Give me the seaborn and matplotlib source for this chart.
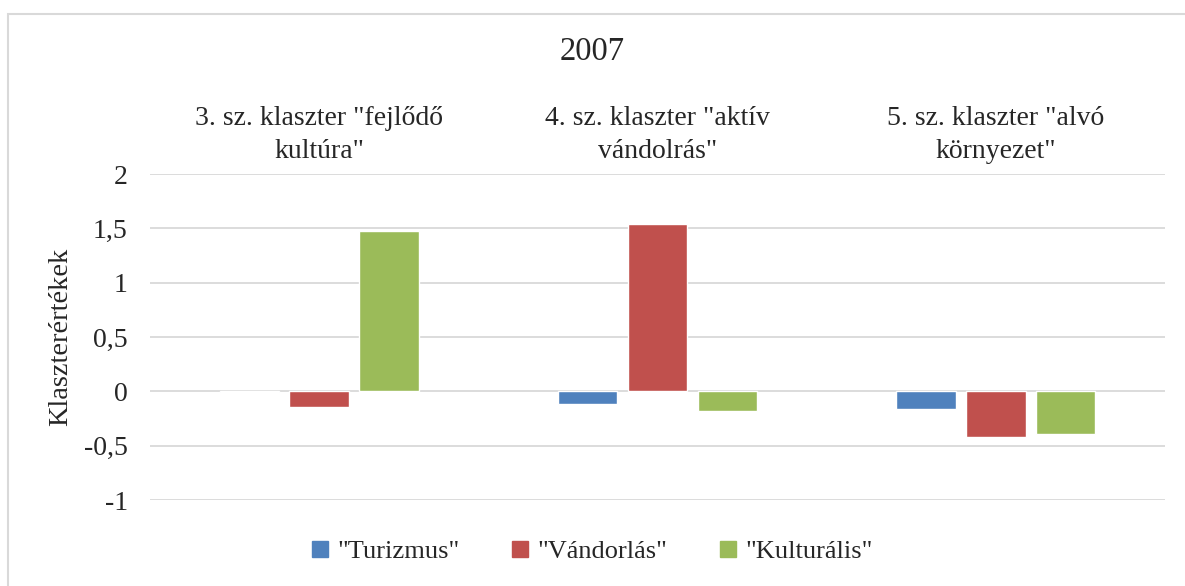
import pandas as pd
import matplotlib.pyplot as plt
import seaborn as sns
from matplotlib.ticker import FuncFormatter

# cluster categories and series values
clusters = ['3. sz. klaszter "fejlődő\nkultúra"',
            '4. sz. klaszter "aktív\nvándolrás"',
            '5. sz. klaszter "alvó\nkörnyezet"']
series = ['"Turizmus"', '"Vándorlás"', '"Kulturális"']
turizmus = [-0.01, -0.12, -0.16]
vandorlas = [-0.14, 1.54, -0.42]
kulturalis = [1.48, -0.18, -0.39]
colors = ['#4F81BD', '#C0504D', '#9BBB59']

rows = []
for name, vals in zip(series, [turizmus, vandorlas, kulturalis]):
    for c, v in zip(clusters, vals):
        rows.append({'klaszter': c, 'sorozat': name, 'ertek': v})
df = pd.DataFrame(rows)

sns.set_style('white')
plt.rcParams['font.family'] = ['Liberation Serif', 'DejaVu Serif']

fig = plt.figure(figsize=(11.85, 5.86), dpi=100)
ax = fig.add_axes([150 / 1185, 1 - 500 / 586, 1015 / 1185, 326 / 586])

sns.barplot(data=df, x='klaszter', y='ertek', hue='sorozat',
            palette=colors, width=0.62, gap=0.15, ax=ax,
            order=clusters, hue_order=series, saturation=1)

ax.set_ylim(-1, 2)
ax.set_yticks([-1, -0.5, 0, 0.5, 1, 1.5, 2])
ax.yaxis.set_major_formatter(FuncFormatter(lambda v, p: f'{v:g}'.replace('.', ',')))
ax.grid(axis='y', color='#d9d9d9', lw=1.3)
ax.set_axisbelow(True)
for s in ax.spines.values():
    s.set_visible(False)

ax.xaxis.tick_top()
ax.tick_params(axis='x', length=0, pad=7, labelsize=20)
ax.tick_params(axis='y', length=0, pad=16, labelsize=20)
for t in ax.get_xticklabels():
    t.set_linespacing(1.45)
ax.set_xlabel('')
ax.set_ylabel('Klaszterértékek', fontsize=20.5, labelpad=8)

fig.text(0.5, 1 - 52 / 586, '2007', ha='center', va='center', fontsize=23.5)

ax.legend_.remove()
handles = [plt.Rectangle((0, 0), 1, 1, color=c) for c in colors]
fig.legend(handles, series, loc='center', bbox_to_anchor=(0.5, 1 - 552 / 586),
           ncol=3, frameon=False, fontsize=19, handlelength=0.6,
           handleheight=0.6, handletextpad=0.35, columnspacing=2.0)

# light frame around the chart area
fig.patches.append(plt.Rectangle((8 / 1185, -0.1), 1.2, 1.1 - 14 / 586,
                                 fill=False, edgecolor='#d9d9d9', lw=1.5,
                                 transform=fig.transFigure))

fig.savefig('out.png', dpi=100)
